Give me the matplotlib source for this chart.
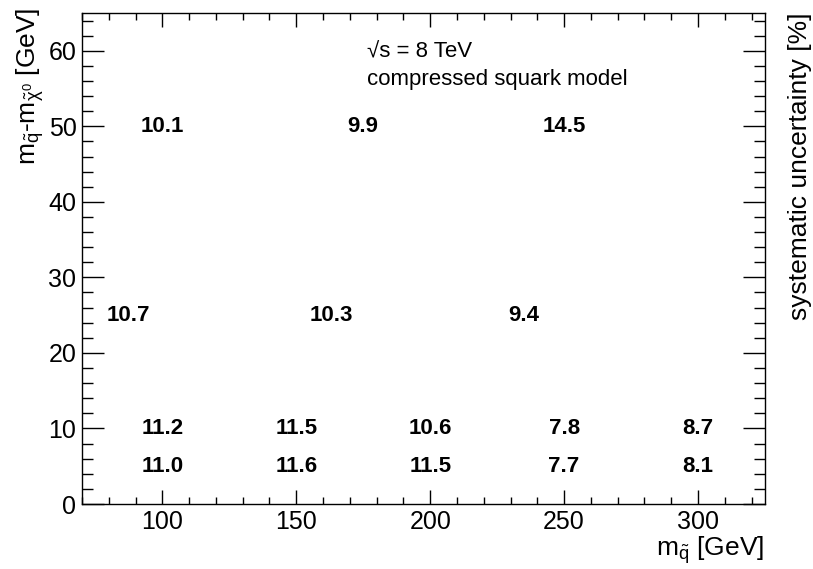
import matplotlib
matplotlib.use("Agg")
import matplotlib.pyplot as plt
from matplotlib.ticker import MultipleLocator

plt.rcParams['font.family'] = ['Liberation Sans', 'DejaVu Sans']
plt.rcParams['mathtext.fontset'] = 'custom'
plt.rcParams['mathtext.rm'] = 'Liberation Sans'
plt.rcParams['mathtext.it'] = 'Liberation Sans'

# squark mass [GeV], mass splitting [GeV], systematic uncertainty [%]
m_squark = [100, 175, 250,
            87.5, 163, 235,
            100, 150, 200, 250, 300,
            100, 150, 200, 250, 300]
delta_m = [50, 50, 50,
           25, 25, 25,
           10, 10, 10, 10, 10,
           5, 5, 5, 5, 5]
syst = ["10.1", "9.9", "14.5",
        "10.7", "10.3", "9.4",
        "11.2", "11.5", "10.6", "7.8", "8.7",
        "11.0", "11.6", "11.5", "7.7", "8.1"]

fig = plt.figure(figsize=(8.13, 5.69), dpi=100)
ax = fig.add_axes([82/813, 1 - 504/569, (765 - 82)/813, (504 - 13)/569])

ax.set_xlim(70, 325)
ax.set_ylim(0, 65)

for x, y, s in zip(m_squark, delta_m, syst):
    ax.text(x, y, s, ha='center', va='center', fontsize=16, fontweight='bold')

ax.xaxis.set_major_locator(MultipleLocator(50))
ax.xaxis.set_minor_locator(MultipleLocator(10))
ax.yaxis.set_major_locator(MultipleLocator(10))
ax.yaxis.set_minor_locator(MultipleLocator(2))
ax.tick_params(axis='both', which='both', direction='in', top=True, right=True,
               labelsize=18, width=1)
ax.tick_params(axis='x', which='major', length=10, pad=4)
ax.tick_params(axis='x', which='minor', length=5)
ax.tick_params(axis='y', which='major', length=16, pad=4)
ax.tick_params(axis='y', which='minor', length=8)
for sp in ax.spines.values():
    sp.set_linewidth(1)

# header text, placed by baseline
ax.text(176.5, (504 - 58) / 7.55, "\u221as = 8 TeV", fontsize=16, ha='left', va='baseline')
ax.text(176.5, (504 - 85) / 7.55, "compressed squark model", fontsize=16, ha='left', va='baseline')

fig.text(764/813, 1 - 556/569, r"m$_{\tilde{q}}$ [GeV]", ha='right', va='baseline', fontsize=19)
fig.text(30/813, 1 - 8/569, r"m$_{\tilde{q}}$-m$_{\tilde{\chi}^{0}}$ [GeV]",
         rotation=90, ha='center', va='top', fontsize=19)
fig.text(800/813, 1 - 12/569, "systematic uncertainty [%]",
         rotation=90, ha='center', va='top', fontsize=19)

fig.savefig("out.png", dpi=100)
